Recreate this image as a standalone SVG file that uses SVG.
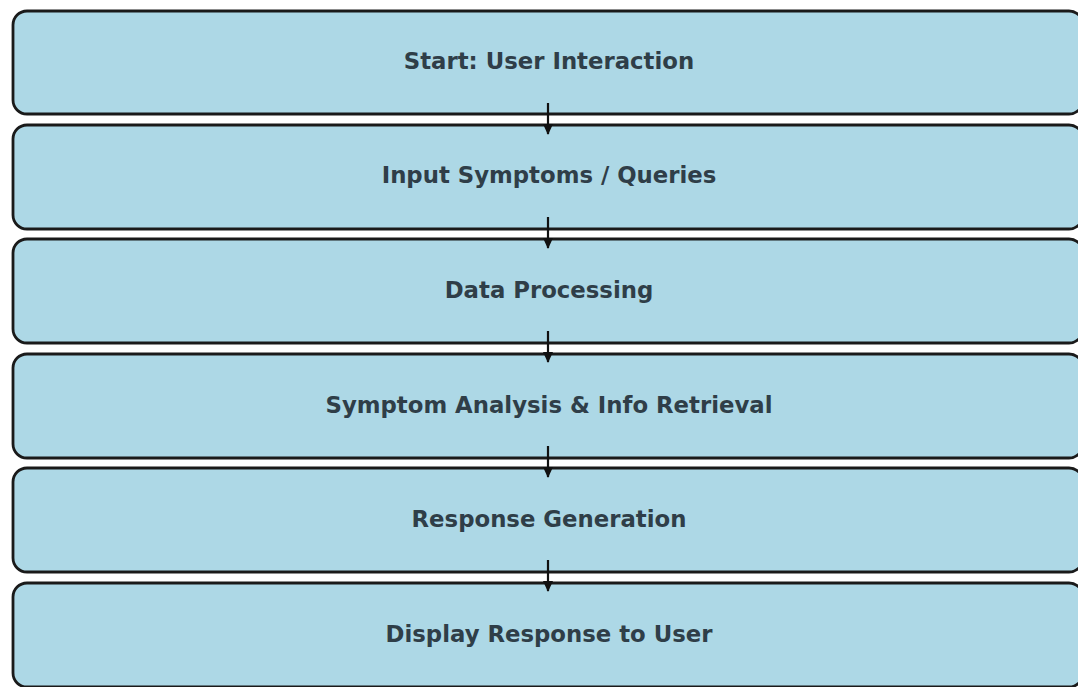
<svg xmlns="http://www.w3.org/2000/svg" width="1078" height="687" viewBox="0 0 1078 687">
<style>
.box{fill:#add8e6;stroke:#1a1a1a;stroke-width:2.8}
.lbl{font-family:"DejaVu Sans",sans-serif;font-weight:bold;font-size:22.8px;fill:#2f3e48;text-anchor:middle;dominant-baseline:central}
.conn{stroke:#111;stroke-width:2.2;fill:none}
</style>
<defs>
<marker id="ah" markerWidth="12" markerHeight="12" refX="10" refY="6" orient="auto" markerUnits="userSpaceOnUse">
<path d="M0,1 L11,6 L0,11 Z" fill="#111"/>
</marker>
</defs>
<rect width="1078" height="687" fill="#ffffff"/>
<g id="n1"><rect class="box" x="13" y="11" width="1070" height="103" rx="14"/><text class="lbl" x="549" y="61">Start: User Interaction</text></g>
<g id="n2"><rect class="box" x="13" y="125" width="1070" height="104" rx="14"/><text class="lbl" x="549" y="175">Input Symptoms / Queries</text></g>
<g id="n3"><rect class="box" x="13" y="239" width="1070" height="104" rx="14"/><text class="lbl" x="549" y="290">Data Processing</text></g>
<g id="n4"><rect class="box" x="13" y="354" width="1070" height="104" rx="14"/><text class="lbl" x="549" y="405">Symptom Analysis &amp; Info Retrieval</text></g>
<g id="n5"><rect class="box" x="13" y="468" width="1070" height="104" rx="14"/><text class="lbl" x="549" y="519">Response Generation</text></g>
<g id="n6"><rect class="box" x="13" y="583" width="1070" height="104" rx="14"/><text class="lbl" x="549" y="634">Display Response to User</text></g>
<g id="connectors">
<line class="conn" x1="548" y1="103" x2="548" y2="134" marker-end="url(#ah)"/>
<line class="conn" x1="548" y1="217" x2="548" y2="248" marker-end="url(#ah)"/>
<line class="conn" x1="548" y1="331" x2="548" y2="362" marker-end="url(#ah)"/>
<line class="conn" x1="548" y1="446" x2="548" y2="477" marker-end="url(#ah)"/>
<line class="conn" x1="548" y1="560" x2="548" y2="591" marker-end="url(#ah)"/>
</g>
</svg>
